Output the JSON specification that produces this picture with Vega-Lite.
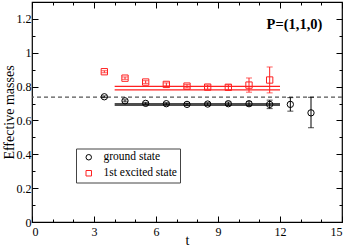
{
  "$schema": "https://vega.github.io/schema/vega-lite/v6.json",
  "width": 310,
  "height": 220,
  "autosize": {"type": "none"},
  "padding": {"left": 32, "top": 2, "right": 7, "bottom": 24},
  "config": {
    "view": {"stroke": "black", "strokeWidth": 1.2},
    "font": "Liberation Serif",
    "axis": {
      "domain": false,
      "grid": false,
      "labelFont": "Liberation Serif",
      "titleFont": "Liberation Serif",
      "tickColor": "black",
      "labelColor": "black",
      "titleColor": "black",
      "labelFontSize": 12,
      "titleFontSize": 13,
      "titleFontWeight": "normal"
    },
    "legend": {
      "labelFont": "Liberation Serif",
      "labelFontSize": 11.5,
      "labelColor": "black"
    }
  },
  "datasets": {
    "pts": [
      {"t": 3.5, "m": 0.740, "lo": 0.735, "hi": 0.745, "state": "ground state"},
      {"t": 4.5, "m": 0.716, "lo": 0.710, "hi": 0.722, "state": "ground state"},
      {"t": 5.5, "m": 0.701, "lo": 0.695, "hi": 0.707, "state": "ground state"},
      {"t": 6.5, "m": 0.699, "lo": 0.693, "hi": 0.705, "state": "ground state"},
      {"t": 7.5, "m": 0.695, "lo": 0.688, "hi": 0.702, "state": "ground state"},
      {"t": 8.5, "m": 0.697, "lo": 0.689, "hi": 0.705, "state": "ground state"},
      {"t": 9.5, "m": 0.699, "lo": 0.689, "hi": 0.709, "state": "ground state"},
      {"t": 10.5, "m": 0.699, "lo": 0.687, "hi": 0.711, "state": "ground state"},
      {"t": 11.5, "m": 0.695, "lo": 0.670, "hi": 0.720, "state": "ground state"},
      {"t": 12.5, "m": 0.695, "lo": 0.655, "hi": 0.735, "state": "ground state"},
      {"t": 13.5, "m": 0.645, "lo": 0.557, "hi": 0.737, "state": "ground state"},
      {"t": 3.5, "m": 0.888, "lo": 0.882, "hi": 0.894, "state": "1st excited state"},
      {"t": 4.5, "m": 0.850, "lo": 0.843, "hi": 0.857, "state": "1st excited state"},
      {"t": 5.5, "m": 0.827, "lo": 0.819, "hi": 0.835, "state": "1st excited state"},
      {"t": 6.5, "m": 0.813, "lo": 0.804, "hi": 0.822, "state": "1st excited state"},
      {"t": 7.5, "m": 0.803, "lo": 0.793, "hi": 0.813, "state": "1st excited state"},
      {"t": 8.5, "m": 0.797, "lo": 0.785, "hi": 0.809, "state": "1st excited state"},
      {"t": 9.5, "m": 0.796, "lo": 0.781, "hi": 0.811, "state": "1st excited state"},
      {"t": 10.5, "m": 0.809, "lo": 0.767, "hi": 0.851, "state": "1st excited state"},
      {"t": 11.5, "m": 0.839, "lo": 0.763, "hi": 0.916, "state": "1st excited state"}
    ],
    "fits": [
      {"t0": 4, "t1": 12, "m": 0.801, "kind": "ex"},
      {"t0": 4, "t1": 12, "m": 0.781, "kind": "ex"},
      {"t0": 4, "t1": 12, "m": 0.694, "kind": "gs"}
    ],
    "ref": [{"m": 0.738}],
    "label": [{"t": 12.7, "m": 1.165, "text": "P=(1,1,0)"}]
  },
  "resolve": {
    "axis": {"x": "independent", "y": "independent"},
    "legend": {"color": "independent", "shape": "independent"}
  },
  "layer": [
    {
      "data": {"name": "ref"},
      "mark": {"type": "rule", "color": "#555555", "strokeWidth": 1.2, "strokeDash": [4, 3]},
      "encoding": {
        "y": {"field": "m", "type": "quantitative", "scale": {"domain": [0, 1.3], "nice": false, "zero": false}, "axis": null}
      }
    },
    {
      "data": {"name": "fits"},
      "transform": [{"filter": "datum.kind == 'gs'"}],
      "mark": {"type": "rule", "color": "#4d4d4d", "strokeWidth": 3},
      "encoding": {
        "x": {"field": "t0", "type": "quantitative", "scale": {"domain": [0, 15], "nice": false, "zero": false},
          "axis": {"orient": "bottom", "values": [0, 3, 6, 9, 12, 15], "tickSize": -6, "labelPadding": 10, "title": "t", "titleFontSize": 14, "titleBaseline": "alphabetic", "titleY": 22}},
        "x2": {"field": "t1"},
        "y": {"field": "m", "type": "quantitative", "scale": {"domain": [0, 1.3], "nice": false, "zero": false},
          "axis": {"orient": "left", "values": [0, 0.2, 0.4, 0.6, 0.8, 1, 1.2], "tickSize": -6, "labelPadding": 7, "title": "Effective masses", "titleFontSize": 14, "titleBaseline": "alphabetic", "titleX": -19, "titleY": 110, "format": "~g"}}
      }
    },
    {
      "data": {"name": "fits"},
      "transform": [{"filter": "datum.kind == 'ex'"}],
      "mark": {"type": "rule", "color": "#ff2020", "strokeWidth": 1.3},
      "encoding": {
        "x": {"field": "t0", "type": "quantitative", "scale": {"domain": [0, 15], "nice": false, "zero": false},
          "axis": {"orient": "bottom", "values": [1, 2, 4, 5, 7, 8, 10, 11, 13, 14], "tickSize": -3, "labels": false, "title": null}},
        "x2": {"field": "t1"},
        "y": {"field": "m", "type": "quantitative", "scale": {"domain": [0, 1.3], "nice": false, "zero": false},
          "axis": {"orient": "left", "values": [0.1, 0.3, 0.5, 0.7, 0.9, 1.1], "tickSize": -3, "labels": false, "title": null}}
      }
    },
    {
      "data": {"name": "pts"},
      "mark": {"type": "rule", "strokeWidth": 1},
      "encoding": {
        "x": {"field": "t", "type": "quantitative", "scale": {"domain": [0, 15], "nice": false, "zero": false},
          "axis": {"orient": "top", "values": [0, 3, 6, 9, 12, 15], "tickSize": -6, "labels": false, "title": null}},
        "y": {"field": "lo", "type": "quantitative", "scale": {"domain": [0, 1.3], "nice": false, "zero": false},
          "axis": {"orient": "right", "values": [0, 0.2, 0.4, 0.6, 0.8, 1, 1.2], "tickSize": -6, "labels": false, "title": null}},
        "y2": {"field": "hi"},
        "color": {"field": "state", "type": "nominal", "scale": {"domain": ["ground state", "1st excited state"], "range": ["#000000", "#ff2020"]}, "legend": null}
      }
    },
    {
      "data": {"name": "pts"},
      "mark": {"type": "tick", "orient": "horizontal", "size": 6, "thickness": 1},
      "encoding": {
        "x": {"field": "t", "type": "quantitative", "scale": {"domain": [0, 15], "nice": false, "zero": false},
          "axis": {"orient": "top", "values": [1, 2, 4, 5, 7, 8, 10, 11, 13, 14], "tickSize": -3, "labels": false, "title": null}},
        "y": {"field": "lo", "type": "quantitative", "scale": {"domain": [0, 1.3], "nice": false, "zero": false},
          "axis": {"orient": "right", "values": [0.1, 0.3, 0.5, 0.7, 0.9, 1.1], "tickSize": -3, "labels": false, "title": null}},
        "color": {"field": "state", "type": "nominal", "scale": {"domain": ["ground state", "1st excited state"], "range": ["#000000", "#ff2020"]}, "legend": null}
      }
    },
    {
      "data": {"name": "pts"},
      "mark": {"type": "tick", "orient": "horizontal", "size": 6, "thickness": 1},
      "encoding": {
        "x": {"field": "t", "type": "quantitative", "scale": {"domain": [0, 15], "nice": false, "zero": false}, "axis": null},
        "y": {"field": "hi", "type": "quantitative", "scale": {"domain": [0, 1.3], "nice": false, "zero": false}, "axis": null},
        "color": {"field": "state", "type": "nominal", "scale": {"domain": ["ground state", "1st excited state"], "range": ["#000000", "#ff2020"]}, "legend": null}
      }
    },
    {
      "data": {"name": "pts"},
      "mark": {"type": "point", "filled": false, "strokeWidth": 1, "opacity": 1},
      "encoding": {
        "x": {"field": "t", "type": "quantitative", "scale": {"domain": [0, 15], "nice": false, "zero": false}, "axis": null},
        "y": {"field": "m", "type": "quantitative", "scale": {"domain": [0, 1.3], "nice": false, "zero": false}, "axis": null},
        "color": {"field": "state", "type": "nominal", "scale": {"domain": ["ground state", "1st excited state"], "range": ["#000000", "#ff2020"]},
          "legend": {"title": null, "orient": "none", "legendX": 44, "legendY": 146.5, "strokeColor": "#444444", "padding": 3, "rowPadding": 3, "symbolSize": 30, "symbolStrokeWidth": 1, "symbolOffset": 4, "labelOffset": 9, "labelFont": "Liberation Serif", "labelFontSize": 11.5, "labelColor": "black"}},
        "shape": {"field": "state", "type": "nominal", "scale": {"domain": ["ground state", "1st excited state"], "range": ["circle", "square"]},
          "legend": {"title": null, "orient": "none", "legendX": 44, "legendY": 146.5, "strokeColor": "#444444", "padding": 3, "rowPadding": 3, "symbolSize": 30, "symbolStrokeWidth": 1, "symbolOffset": 4, "labelOffset": 9, "labelFont": "Liberation Serif", "labelFontSize": 11.5, "labelColor": "black"}},
        "size": {"value": 40}
      }
    },
    {
      "data": {"name": "label"},
      "mark": {"type": "text", "font": "Liberation Serif", "fontWeight": "bold", "fontSize": 14.5, "color": "black"},
      "encoding": {
        "x": {"field": "t", "type": "quantitative", "scale": {"domain": [0, 15], "nice": false, "zero": false}, "axis": null},
        "y": {"field": "m", "type": "quantitative", "scale": {"domain": [0, 1.3], "nice": false, "zero": false}, "axis": null},
        "text": {"field": "text"}
      }
    }
  ]
}
